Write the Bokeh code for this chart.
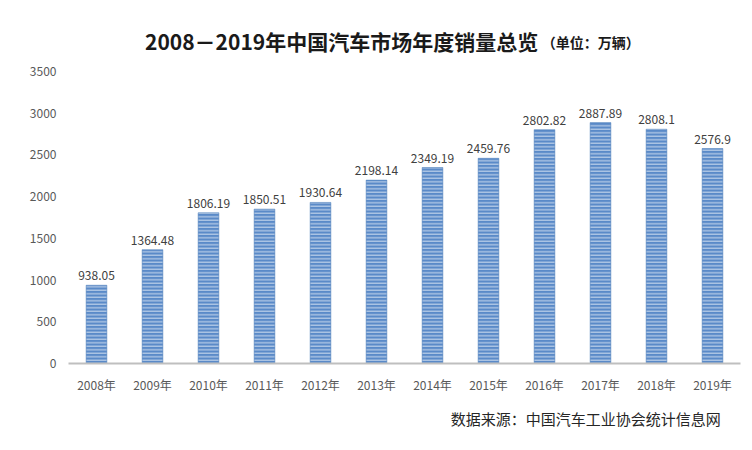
from bokeh.plotting import figure
from bokeh.layouts import column
from bokeh.models import ColumnDataSource, FactorRange, Range1d, FixedTicker, LabelSet
from bokeh.core.properties import value
from bokeh.embed import file_html
from bokeh.resources import INLINE

years = ["2008年", "2009年", "2010年", "2011年", "2012年", "2013年",
         "2014年", "2015年", "2016年", "2017年", "2018年", "2019年"]
sales = [938.05, 1364.48, 1806.19, 1850.51, 1930.64, 2198.14,
         2349.19, 2459.76, 2802.82, 2887.89, 2808.1, 2576.9]
sales_labels = [str(v) for v in sales]
y_ticks = [0, 500, 1000, 1500, 2000, 2500, 3000, 3500]

title_main = "2008－2019年中国汽车市场年度销量总览"
title_unit = "（单位：万辆）"
source_text = "数据来源：中国汽车工业协会统计信息网"

FONT = "Noto Sans CJK SC"
W = 744

# ---- header with title ----
head = figure(width=W, height=60, output_backend="svg", toolbar_location=None,
              x_range=Range1d(0, W), y_range=Range1d(0, 60),
              x_axis_type=None, y_axis_type=None, min_border=0,
              outline_line_color=None)
head.grid.grid_line_color = None
head.text(x=[520], y=[20], text=[title_main], text_align="right", text_baseline="middle",
          text_font=value(FONT), text_font_size="21px", text_font_style="bold",
          text_color="#1a1a1a")
head.text(x=[524], y=[19], text=[title_unit], text_align="left", text_baseline="middle",
          text_font=value(FONT), text_font_size="14px", text_font_style="bold",
          text_color="#1a1a1a")

# ---- main chart ----
src = ColumnDataSource(dict(year=years, sales=sales, label=sales_labels))

p = figure(width=W, height=338, output_backend="svg", toolbar_location=None,
           x_range=FactorRange(*years, range_padding=0), y_range=Range1d(0, 3500),
           min_border_left=68, min_border_right=4, min_border_top=11, min_border_bottom=35,
           outline_line_color=None)

p.vbar(x="year", top="sales", width=0.37, source=src,
       fill_color="#5a8ac8", line_color="#4a7cb8", line_width=0.5,
       hatch_pattern="horizontal_line", hatch_color="white", hatch_alpha=0.7,
       hatch_scale=3.5, hatch_weight=1)

labels = LabelSet(x="year", y="sales", text="label", source=src,
                  text_align="center", text_baseline="bottom", y_offset=5,
                  text_font=value(FONT), text_font_size="12px", text_color="#404040")
p.add_layout(labels)

p.xgrid.grid_line_color = None
p.ygrid.grid_line_color = None

p.yaxis.ticker = FixedTicker(ticks=y_ticks)
p.yaxis.axis_line_color = None
p.yaxis.major_tick_line_color = None
p.yaxis.minor_tick_line_color = None
p.yaxis.major_label_text_font = FONT
p.yaxis.major_label_text_font_size = "12px"
p.yaxis.major_label_text_color = "#595959"
p.yaxis.major_label_standoff = 6

p.xaxis.axis_line_color = "#bfbfbf"
p.xaxis.axis_line_width = 2
p.xaxis.major_tick_line_color = None
p.xaxis.minor_tick_line_color = None
p.xaxis.major_label_text_font = FONT
p.xaxis.major_label_text_font_size = "12px"
p.xaxis.major_label_text_color = "#595959"
p.xaxis.major_label_standoff = 6

# ---- footer with source ----
foot = figure(width=W, height=50, output_backend="svg", toolbar_location=None,
              x_range=Range1d(0, W), y_range=Range1d(0, 50),
              x_axis_type=None, y_axis_type=None, min_border=0,
              outline_line_color=None)
foot.grid.grid_line_color = None
foot.text(x=[722], y=[30], text=[source_text], text_align="right", text_baseline="middle",
          text_font=value(FONT), text_font_size="15px", text_color="#262626")

layout = column(head, p, foot, spacing=0)
open("out.html", "w").write(file_html(layout, INLINE))
